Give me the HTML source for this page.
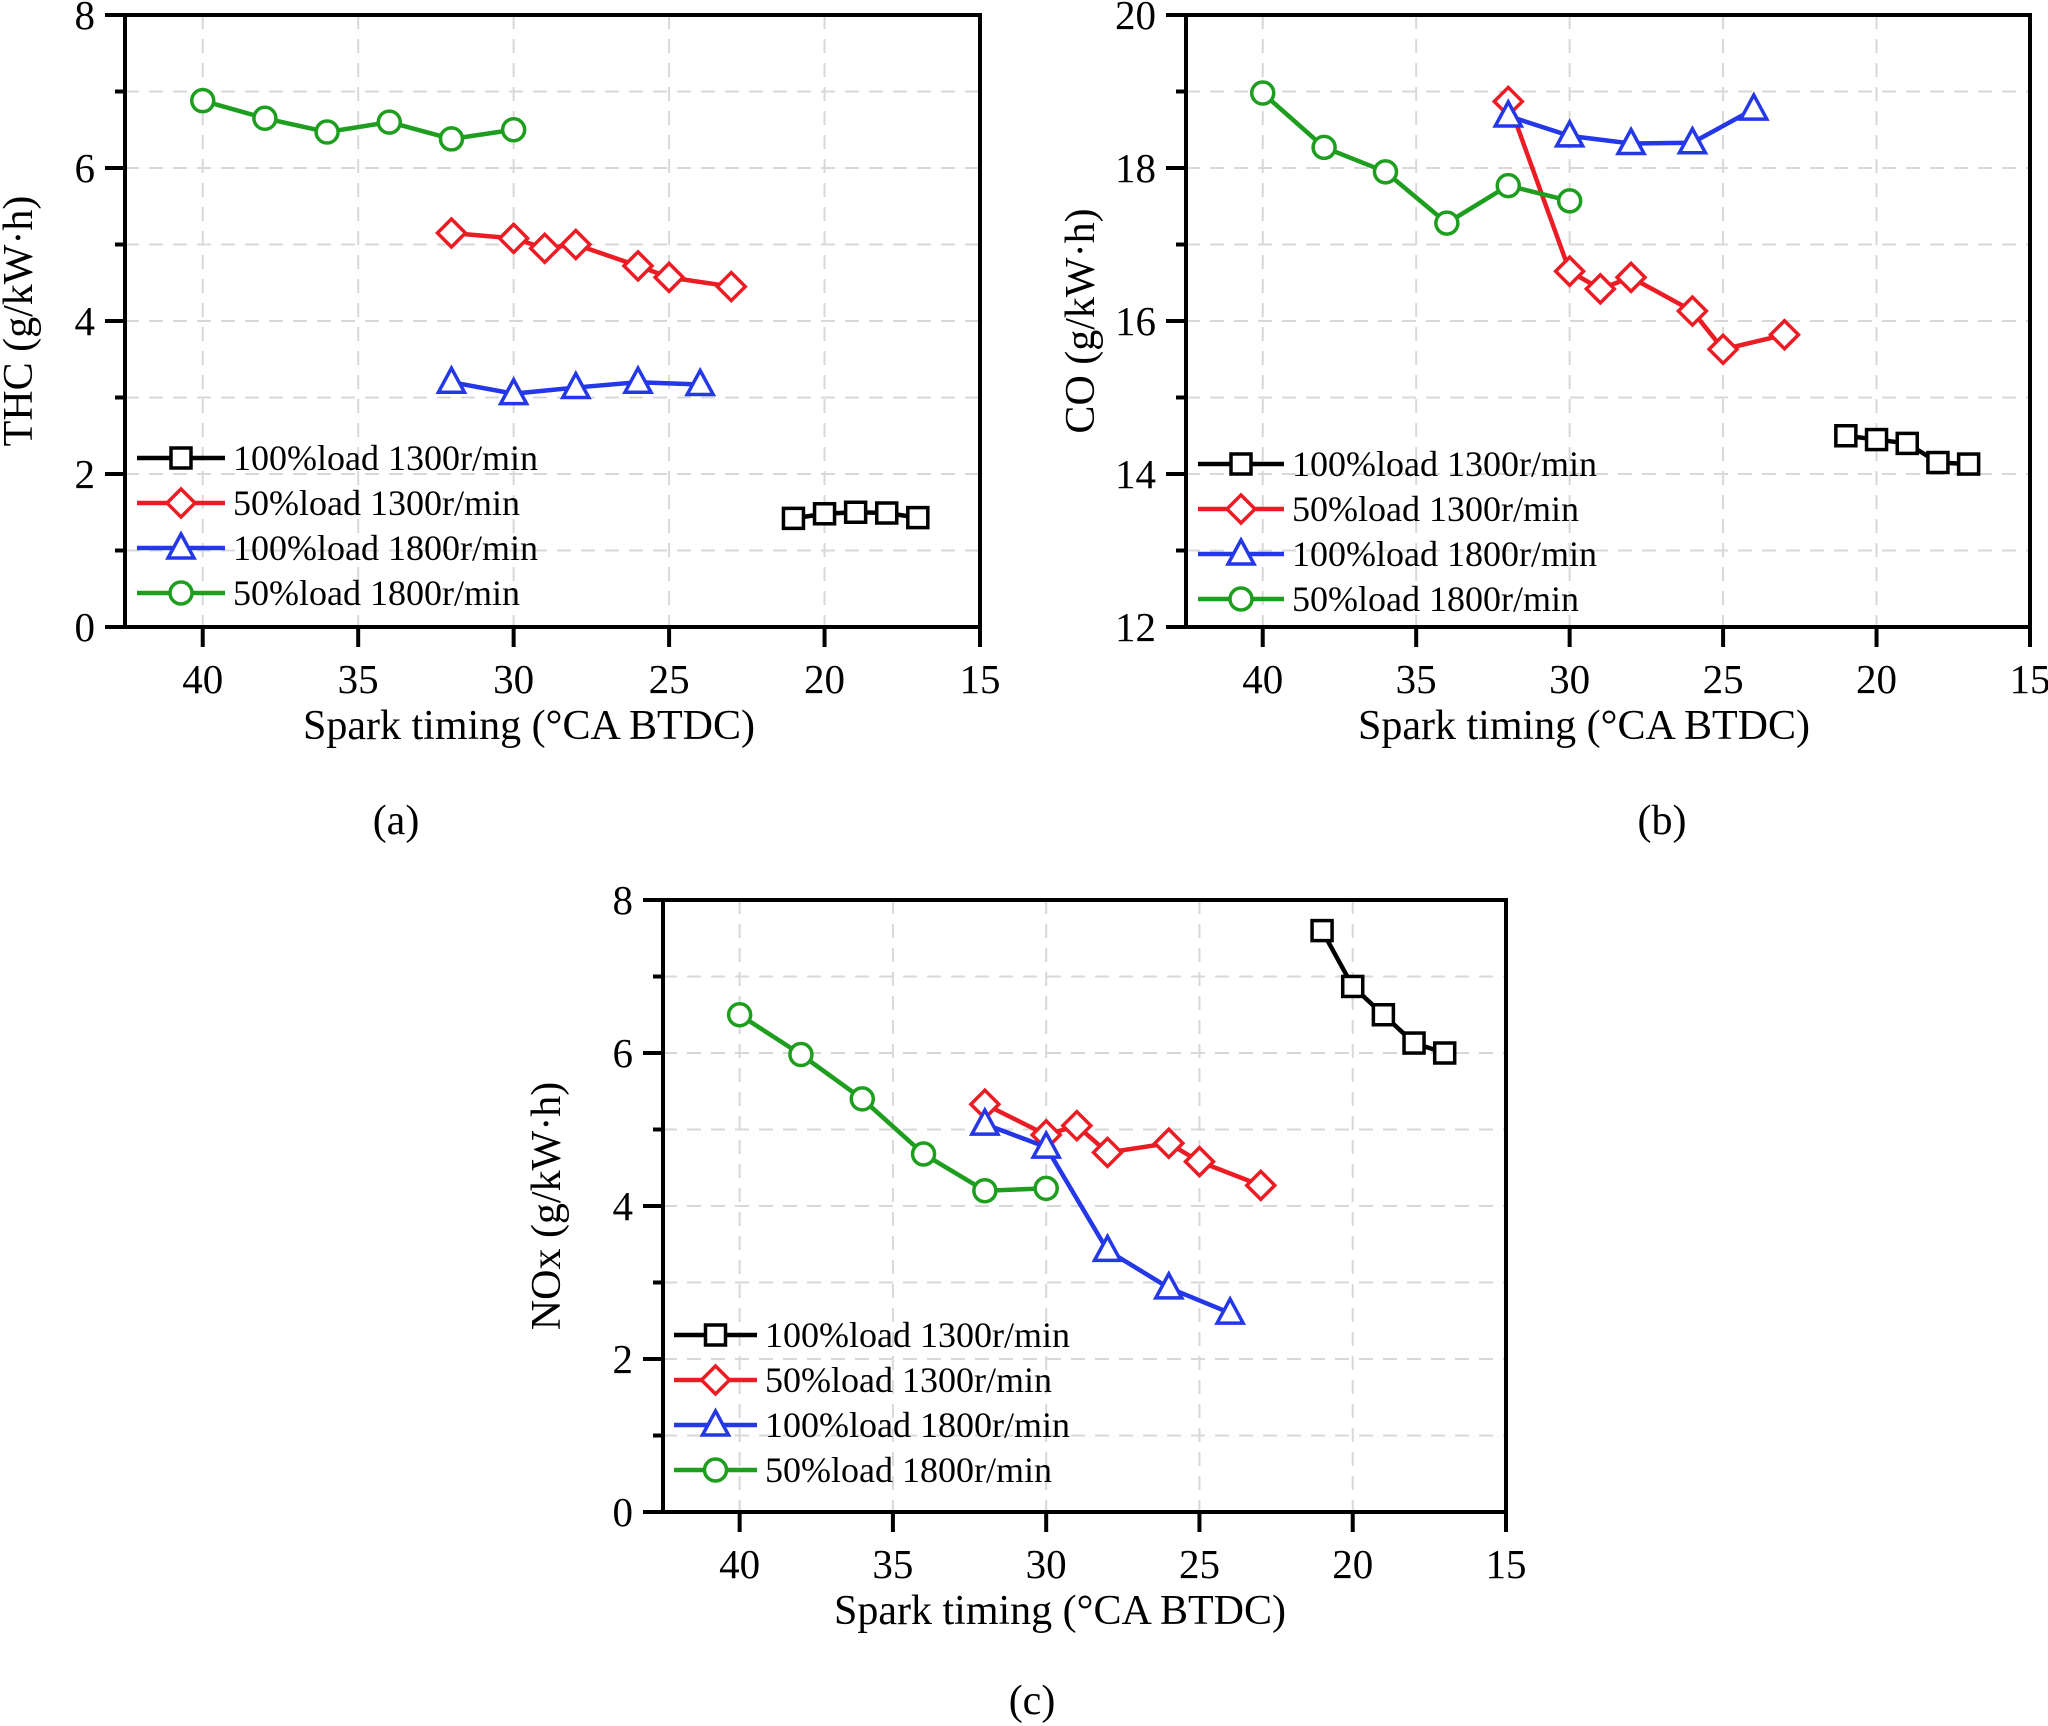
<!DOCTYPE html>
<html><head><meta charset="utf-8"><style>
html,body{margin:0;padding:0;background:#fff;}
svg{display:block;font-family:"Liberation Serif","Times New Roman",serif;}
</style></head><body>
<svg id="fig" width="2048" height="1726" viewBox="0 0 2048 1726" xmlns="http://www.w3.org/2000/svg"></svg>
<script>
// shared x categories
const xs1300_100 = [21,20,19,18,17];
const xs1300_50 = [32,30,29,28,26,25,23];
const xs1800_100 = [32,30,28,26,24];
const xs1800_50 = [40,38,36,34,32,30];
const xTicks = [40,35,30,25,20,15];
const seriesNames = ["100%load 1300r/min","50%load 1300r/min","100%load 1800r/min","50%load 1800r/min"];
// THC values
const thc100_1300 = [1.42,1.48,1.50,1.49,1.43];
const thc50_1300 = [5.15,5.08,4.95,5.0,4.72,4.57,4.45];
const thc100_1800 = [3.2,3.05,3.13,3.2,3.17];
const thc50_1800 = [6.88,6.65,6.47,6.6,6.38,6.5];
const thcTicks = [0,2,4,6,8];
// CO values
const co100_1300 = [14.5,14.45,14.4,14.15,14.13];
const co50_1300 = [18.87,16.65,16.42,16.57,16.13,15.63,15.82];
const co100_1800 = [18.68,18.42,18.32,18.33,18.77];
const co50_1800 = [18.98,18.27,17.95,17.28,17.77,17.57];
const coTicks = [12,14,16,18,20];
// NOx values
const nox100_1300 = [7.6,6.87,6.5,6.13,6.0];
const nox50_1300 = [5.33,4.93,5.05,4.7,4.82,4.58,4.27];
const nox100_1800 = [5.07,4.77,3.42,2.93,2.6];
const nox50_1800 = [6.5,5.98,5.4,4.68,4.2,4.23];
const noxTicks = [0,2,4,6,8];

const NS="http://www.w3.org/2000/svg";
const svg=document.getElementById('fig');
function mk(tag,attrs,parent){const e=document.createElementNS(NS,tag);for(const k in attrs)e.setAttribute(k,attrs[k]);(parent||svg).appendChild(e);return e;}
const colors=["#000000","#ec1c24","#2438e8","#1e9e1e"];
const markers=["square","diamond","triangle","circle"];
function marker(g,type,x,y,c){
  let e;
  if(type==="square") e=mk('rect',{x:x-10,y:y-10,width:20,height:20,fill:'#fff',stroke:c,'stroke-width':3.5},g);
  else if(type==="diamond") e=mk('polygon',{points:`${x},${y-14} ${x+14},${y} ${x},${y+14} ${x-14},${y}`,fill:'#fff',stroke:c,'stroke-width':3.5},g);
  else if(type==="triangle") e=mk('polygon',{points:`${x},${y-14} ${x+13},${y+10} ${x-13},${y+10}`,fill:'#fff',stroke:c,'stroke-width':3.5},g);
  else e=mk('circle',{cx:x,cy:y,r:11,fill:'#fff',stroke:c,'stroke-width':3.5},g);
  return e;
}
function panel(cfg){
  const g=mk('g',{});
  
  
  const {L,R,T,B,ymin,ymax}=cfg;
  const X=v=>L+(42.5-v)/(42.5-15)*(R-L);
  const Y=v=>B-(v-ymin)/(ymax-ymin)*(B-T);
  for(const t of xTicks){ if(t===15) continue; const l=mk('line',{x1:X(t),x2:X(t),y1:T,y2:B,stroke:'#d8d8d8','stroke-width':2,'stroke-dasharray':'14,10'},g);  }
  for(let v=ymin+1;v<ymax;v++){ const l=mk('line',{x1:L,x2:R,y1:Y(v),y2:Y(v),stroke:'#d8d8d8','stroke-width':2,'stroke-dasharray':'14,10'},g);  }
  for(const t of xTicks){
    const tk=mk('line',{x1:X(t),x2:X(t),y1:B,y2:B+20,stroke:'#000','stroke-width':4},g);
     
    const tx=mk('text',{x:X(t),y:B+66,'font-size':41,'text-anchor':'middle'},g); tx.textContent=t;
     
  }
  for(let v=ymin;v<=ymax;v++){
    const major=cfg.yTicks.includes(v);
    const tk=mk('line',{x1:L-(major?20:10),x2:L,y1:Y(v),y2:Y(v),stroke:'#000','stroke-width':4},g);
     
    if(major){const tx=mk('text',{x:L-30,y:Y(v)+14,'font-size':41,'text-anchor':'end'},g); tx.textContent=v;
       }
  }
  const fr=mk('rect',{x:L,y:T,width:R-L,height:B-T,fill:'none',stroke:'#000','stroke-width':4},g);
   
  cfg.series.forEach((s,i)=>{
    const sg=mk('g',{},g);
    
    
    const pts=s.x.map((xv,j)=>X(xv)+','+Y(s.y[j])).join(' ');
    mk('polyline',{points:pts,fill:'none',stroke:colors[i],'stroke-width':4.5},sg);
    s.x.forEach((xv,j)=>{const m=marker(sg,markers[i],X(xv),Y(s.y[j]),colors[i]);
       });
  });
  const lg=mk('g',{},g);
  
  
  seriesNames.forEach((n,i)=>{
    const y=cfg.leg.y0+i*cfg.leg.dy;
    const eg=mk('g',{},lg);
    
    
    mk('line',{x1:cfg.leg.x1,x2:cfg.leg.x2,y1:y,y2:y,stroke:colors[i],'stroke-width':4.5},eg);
    marker(eg,markers[i],(cfg.leg.x1+cfg.leg.x2)/2,y,colors[i]);
    const t=mk('text',{x:cfg.leg.x2+8,y:y+12,'font-size':36},eg); t.textContent=n;
  });
  const xt=mk('text',{x:cfg.xtx,y:B+112,'font-size':42,'text-anchor':'middle'},g);
  xt.textContent="Spark timing (°CA BTDC)";
   
  const yt=mk('text',{x:0,y:0,'font-size':42,'text-anchor':'middle',transform:`translate(${cfg.ytx},${(T+B)/2}) rotate(-90)`},g);
  yt.textContent=cfg.ytitle;
   
  const cp=mk('text',{x:cfg.cap[0],y:cfg.cap[1],'font-size':42,'text-anchor':'middle'},g);
  cp.textContent=cfg.capText;
   
}
panel({name:'thc-chart',L:125,R:980,T:15,B:627,ymin:0,ymax:8,yTicks:thcTicks,ytx:32,xtx:529,ytitle:"THC (g/kW·h)",
  series:[{x:xs1300_100,y:thc100_1300},{x:xs1300_50,y:thc50_1300},{x:xs1800_100,y:thc100_1800},{x:xs1800_50,y:thc50_1800}],
  leg:{x1:137,x2:225,y0:458,dy:45},cap:[396,834],capText:"(a)"});
panel({name:'co-chart',L:1186,R:2030,T:15,B:627,ymin:12,ymax:20,yTicks:coTicks,ytx:1094,xtx:1584,ytitle:"CO (g/kW·h)",
  series:[{x:xs1300_100,y:co100_1300},{x:xs1300_50,y:co50_1300},{x:xs1800_100,y:co100_1800},{x:xs1800_50,y:co50_1800}],
  leg:{x1:1198,x2:1284,y0:464,dy:45},cap:[1662,834],capText:"(b)"});
panel({name:'nox-chart',L:663,R:1506,T:900,B:1512,ymin:0,ymax:8,yTicks:noxTicks,ytx:560,xtx:1060,ytitle:"NOx (g/kW·h)",
  series:[{x:xs1300_100,y:nox100_1300},{x:xs1300_50,y:nox50_1300},{x:xs1800_100,y:nox100_1800},{x:xs1800_50,y:nox50_1800}],
  leg:{x1:674,x2:757,y0:1335,dy:45},cap:[1032,1714],capText:"(c)"});
</script>
</body></html>
